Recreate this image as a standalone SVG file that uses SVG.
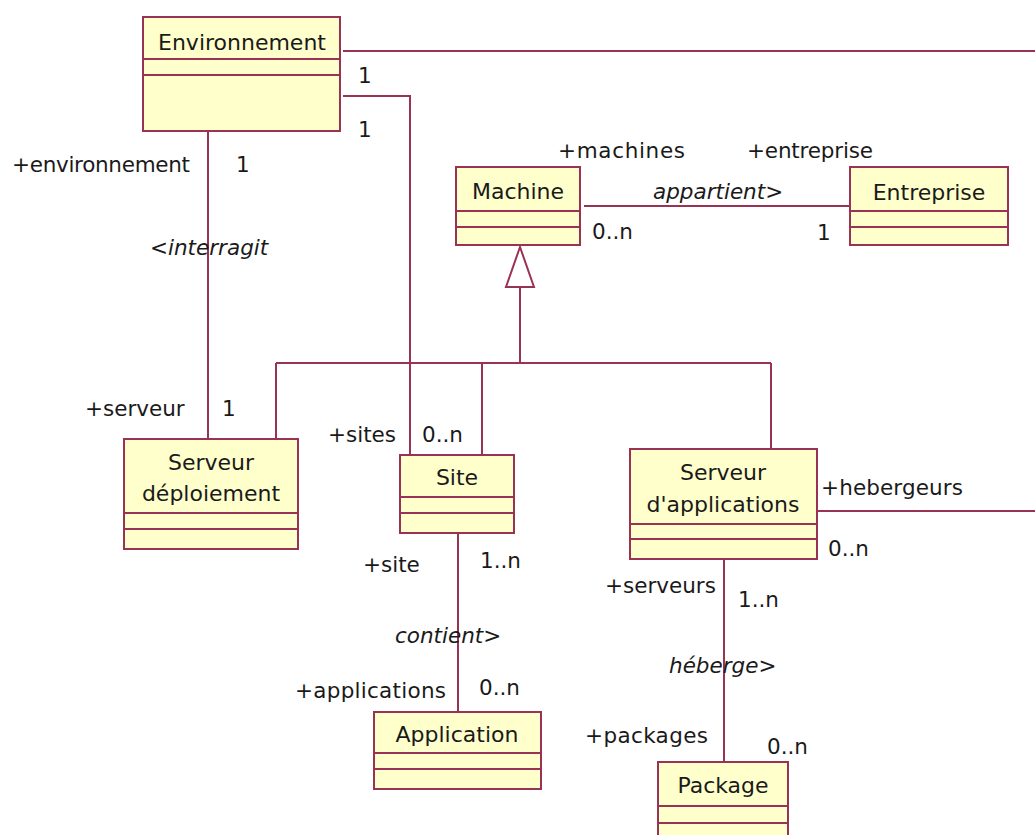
<svg xmlns="http://www.w3.org/2000/svg" width="1035" height="835" viewBox="0 0 1035 835">
<style>
.box{fill:#FFFFCC;stroke:#993355;stroke-width:2}
.div{stroke:#993355;stroke-width:2}
.ln{fill:none;stroke:#993355;stroke-width:2}
text{font-family:"DejaVu Sans","Liberation Sans",sans-serif;font-size:21.5px;fill:#1a1a1a}
.c{text-anchor:middle;font-size:22px}
.i{font-style:italic}
</style>
<rect width="1035" height="835" fill="#ffffff"/>
<g id="connectors">
<path class="ln" d="M343,51 H1035"/>
<path class="ln" d="M343,96 H410 V455"/>
<path class="ln" d="M208,131 V439"/>
<path class="ln" d="M584,206 H850"/>
<path class="ln" d="M520,287 V363 M276,363 H771 M276,363 V439 M482,363 V455 M771,363 V449"/>
<polygon points="520,247 506,287 534,287" fill="#ffffff" stroke="#993355" stroke-width="2"/>
<path class="ln" d="M817,511 H1035"/>
<path class="ln" d="M458,533 V712"/>
<path class="ln" d="M724,559 V762"/>
</g>
<g id="labels">
<text x="358" y="83">1</text>
<text x="358" y="137">1</text>
<text x="12" y="172" textLength="178">+environnement</text>
<text x="236" y="172">1</text>
<text x="150" y="255" class="i">&lt;interragit</text>
<text x="558" y="158" textLength="127">+machines</text>
<text x="747" y="158" textLength="126">+entreprise</text>
<text x="653" y="199" class="i">appartient&gt;</text>
<text x="592" y="239">0..n</text>
<text x="817" y="240">1</text>
<text x="85" y="416">+serveur</text>
<text x="222" y="416">1</text>
<text x="328" y="442">+sites</text>
<text x="422" y="442">0..n</text>
<text x="821" y="495" textLength="142">+hebergeurs</text>
<text x="828" y="556">0..n</text>
<text x="363" y="572">+site</text>
<text x="480" y="568">1..n</text>
<text x="605" y="593">+serveurs</text>
<text x="738" y="607">1..n</text>
<text x="395" y="643" class="i">contient&gt;</text>
<text x="669" y="673" class="i">héberge&gt;</text>
<text x="295" y="698" textLength="151">+applications</text>
<text x="479" y="695">0..n</text>
<text x="585" y="743" textLength="123">+packages</text>
<text x="767" y="754">0..n</text>
</g>
<g id="Environnement">
<rect class="box" x="143" y="17" width="197" height="114"/>
<line class="div" x1="143" y1="59" x2="340" y2="59"/>
<line class="div" x1="143" y1="75" x2="340" y2="75"/>
<text class="c" x="242" y="50">Environnement</text>
</g>
<g id="Machine">
<rect class="box" x="456" y="167" width="124" height="78"/>
<line class="div" x1="456" y1="211" x2="580" y2="211"/>
<line class="div" x1="456" y1="227" x2="580" y2="227"/>
<text class="c" x="518" y="199">Machine</text>
</g>
<g id="Entreprise">
<rect class="box" x="850" y="167" width="158" height="78"/>
<line class="div" x1="850" y1="211" x2="1008" y2="211"/>
<line class="div" x1="850" y1="227" x2="1008" y2="227"/>
<text class="c" x="929" y="200">Entreprise</text>
</g>
<g id="ServeurDeploiement">
<rect class="box" x="124" y="439" width="174" height="110"/>
<line class="div" x1="124" y1="513" x2="298" y2="513"/>
<line class="div" x1="124" y1="529" x2="298" y2="529"/>
<text class="c" x="211" y="470">Serveur</text>
<text class="c" x="211" y="501">déploiement</text>
</g>
<g id="Site">
<rect class="box" x="400" y="455" width="114" height="78"/>
<line class="div" x1="400" y1="497" x2="514" y2="497"/>
<line class="div" x1="400" y1="513" x2="514" y2="513"/>
<text class="c" x="457" y="485">Site</text>
</g>
<g id="ServeurApplications">
<rect class="box" x="630" y="449" width="187" height="110"/>
<line class="div" x1="630" y1="524" x2="817" y2="524"/>
<line class="div" x1="630" y1="539" x2="817" y2="539"/>
<text class="c" x="723" y="480">Serveur</text>
<text class="c" x="723" y="512">d'applications</text>
</g>
<g id="Application">
<rect class="box" x="374" y="712" width="167" height="77"/>
<line class="div" x1="374" y1="753" x2="541" y2="753"/>
<line class="div" x1="374" y1="769" x2="541" y2="769"/>
<text class="c" x="457" y="742">Application</text>
</g>
<g id="Package">
<rect class="box" x="658" y="762" width="130" height="90"/>
<line class="div" x1="658" y1="806" x2="788" y2="806"/>
<line class="div" x1="658" y1="823" x2="788" y2="823"/>
<text class="c" x="723" y="793">Package</text>
</g>
</svg>
